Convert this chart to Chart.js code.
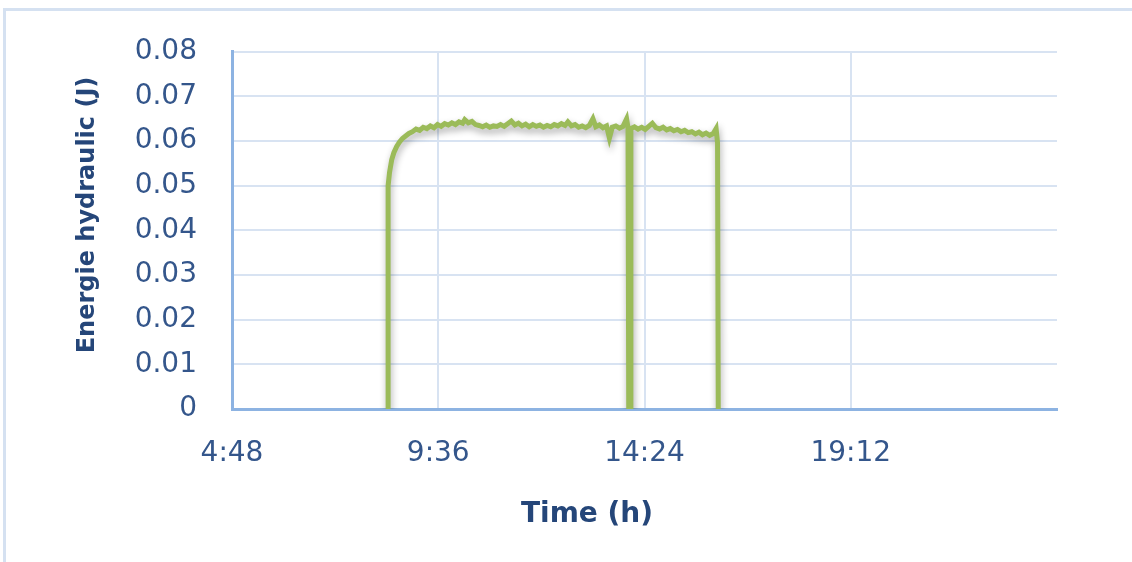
<!DOCTYPE html>
<html>
<head>
<meta charset="utf-8">
<script src="https://cdn.jsdelivr.net/npm/chart.js@4.4.1/dist/chart.umd.min.js"></script>
<style>
  html, body { margin: 0; padding: 0; background: #ffffff; }
  #wrap { position: relative; width: 1132px; height: 562px; background: #ffffff; }
  #frame { position: absolute; left: 3px; top: 8px; right: 0; bottom: 0;
           border-top: 3px solid #D5E1F1; border-left: 3px solid #D5E1F1; pointer-events: none; }
  canvas { position: absolute; left: 0; top: 0; }
</style>
</head>
<body>
<div id="wrap">
  <div id="frame"></div>
  <canvas id="c" width="1132" height="562"></canvas>
</div>
<script>
// ---- data ----
const timeLabels = [
  '8:26','8:26','8:28','8:31','8:34','8:38','8:42','8:46','8:50','8:55',
  '9:00','9:05','9:10','9:15','9:20','9:25','9:30','9:35','9:40','9:45',
  '9:50','9:55','10:00','10:05','10:10','10:13','10:18','10:23','10:28','10:33',
  '10:38','10:43','10:48','10:53','10:58','11:03','11:08','11:13','11:18','11:23',
  '11:28','11:33','11:38','11:43','11:48','11:53','11:58','12:03','12:08','12:13',
  '12:18','12:23','12:28','12:33','12:37','12:42','12:47','12:52','12:57','13:02',
  '13:07','13:12','13:16','13:21','13:26','13:31','13:35','13:39','13:44','13:49',
  '13:54','13:59','14:01','14:02','14:04','14:05','14:10','14:15','14:20','14:25',
  '14:30','14:35','14:40','14:45','14:50','14:55','15:00','15:05','15:10','15:15',
  '15:20','15:25','15:30','15:35','15:40','15:45','15:50','15:55','16:00','16:04',
  '16:06','16:07'
];
const energyValues = [
  0, 0.0500, 0.0530, 0.0558, 0.0574, 0.0588, 0.0598, 0.0606, 0.0611, 0.0617,
  0.0621, 0.0627, 0.0624, 0.0631, 0.0628, 0.0634, 0.0630, 0.0637, 0.0633, 0.0639,
  0.0636, 0.0641, 0.0637, 0.0643, 0.0640, 0.0648, 0.0641, 0.0644, 0.0637, 0.0635,
  0.0632, 0.0636, 0.0631, 0.0634, 0.0633, 0.0637, 0.0633, 0.0639, 0.0645, 0.0636,
  0.0640, 0.0634, 0.0638, 0.0632, 0.0637, 0.0633, 0.0636, 0.0631, 0.0635, 0.0632,
  0.0637, 0.0634, 0.0639, 0.0635, 0.0643, 0.0634, 0.0637, 0.0631, 0.0634, 0.0630,
  0.0635, 0.0650, 0.0632, 0.0636, 0.0630, 0.0634, 0.0607, 0.0631, 0.0634, 0.0629,
  0.0633, 0.0650, 0.0630, 0, 0, 0.0628, 0.0632, 0.0627, 0.0631, 0.0626,
  0.0633, 0.0640, 0.0630, 0.0627, 0.0631, 0.0625, 0.0628, 0.0623, 0.0626, 0.0621,
  0.0624, 0.0619, 0.0621, 0.0616, 0.0620, 0.0614, 0.0618, 0.0613, 0.0617, 0.0628,
  0.0596, 0
];
const xTickMinutes = [288, 576, 864, 1152, 1440];
const xTickLabels = ['4:48', '9:36', '14:24', '19:12', ''];
const yTickValues = [0, 0.01, 0.02, 0.03, 0.04, 0.05, 0.06, 0.07, 0.08];
const yTickLabels = ['0', '0.01', '0.02', '0.03', '0.04', '0.05', '0.06', '0.07', '0.08'];
const xTitle = 'Time (h)';
const yTitle = 'Energie hydraulic (J)';

function toMinutes(s) { const p = s.split(':').map(Number); return p[0] * 60 + p[1]; }
const points = timeLabels.map((t, i) => ({ x: toMinutes(t), y: energyValues[i] }));

const TICK_COLOR = '#34568B';
const TITLE_COLOR = '#254679';
const GRID_COLOR = '#D8E3F2';
const AXIS_COLOR = '#8DB3E2';

const shadowPlugin = {
  id: 'lineShadow',
  beforeDatasetsDraw(chart) {
    const ctx = chart.ctx;
    ctx.save();
    ctx.shadowColor = 'rgba(0,0,0,0.32)';
    ctx.shadowBlur = 7;
    ctx.shadowOffsetX = 1;
    ctx.shadowOffsetY = 4;
  },
  afterDatasetsDraw(chart) { chart.ctx.restore(); }
};

const titlePlugin = {
  id: 'axisTitles',
  afterDraw(chart) {
    const ctx = chart.ctx;
    ctx.save();
    ctx.fillStyle = TITLE_COLOR;
    ctx.textAlign = 'center';
    ctx.textBaseline = 'middle';
    ctx.font = 'bold 28px "DejaVu Sans"';
    ctx.fillText(xTitle, 587, 515);
    ctx.translate(88, 215);
    ctx.rotate(-Math.PI / 2);
    ctx.font = 'bold 24px "DejaVu Sans"';
    ctx.fillText(yTitle, 0, 0);
    ctx.restore();
  }
};

new Chart(document.getElementById('c'), {
  type: 'line',
  data: {
    datasets: [{
      data: points,
      borderColor: '#9BBB59',
      borderWidth: 5,
      pointRadius: 0,
      tension: 0,
      fill: false
    }]
  },
  options: {
    responsive: false,
    animation: false,
    events: [],
    layout: { padding: { left: 0, top: 51, right: 75, bottom: 0 } },
    plugins: { legend: { display: false }, tooltip: { enabled: false } },
    scales: {
      x: {
        type: 'linear',
        min: 288, max: 1440,
        afterBuildTicks(scale) { scale.ticks = xTickMinutes.map(v => ({ value: v })); },
        afterFit(scale) { scale.height = 562 - 409; },
        grid: {
          drawTicks: false,
          lineWidth: 2,
          color: (c) => (c.tick && (c.tick.value === 1440 || c.tick.value === 288)) ? 'rgba(0,0,0,0)' : GRID_COLOR
        },
        border: { display: true, color: AXIS_COLOR, width: 3 },
        ticks: {
          padding: 28,
          maxRotation: 0,
          autoSkip: false,
          color: TICK_COLOR,
          font: { family: '"DejaVu Sans"', size: 28 },
          callback: (v) => { const i = xTickMinutes.indexOf(v); return i >= 0 ? xTickLabels[i] : ''; }
        }
      },
      y: {
        min: 0, max: 0.08,
        afterBuildTicks(scale) { scale.ticks = yTickValues.map(v => ({ value: v })); },
        afterFit(scale) { scale.width = 232; },
        grid: {
          drawTicks: false,
          lineWidth: 2,
          color: (c) => (c.tick && c.tick.value === 0) ? 'rgba(0,0,0,0)' : GRID_COLOR
        },
        border: { display: true, color: AXIS_COLOR, width: 3 },
        ticks: {
          padding: 35,
          color: TICK_COLOR,
          font: { family: '"DejaVu Sans"', size: 28 },
          callback: (v) => { const i = yTickValues.findIndex(t => Math.abs(t - v) < 1e-9); return i >= 0 ? yTickLabels[i] : ''; }
        }
      }
    }
  },
  plugins: [shadowPlugin, titlePlugin]
});
</script>
</body>
</html>
